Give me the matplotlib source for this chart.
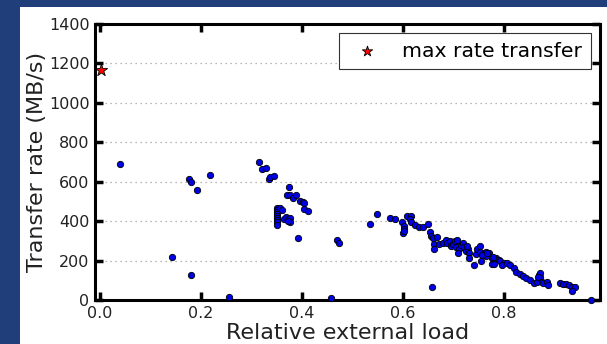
import matplotlib
matplotlib.use("Agg")
import matplotlib.pyplot as plt

# ---- data ----
load = [0.040, 0.177, 0.181, 0.191, 0.218, 0.143, 0.180, 0.256,
        0.314, 0.321, 0.328, 0.335, 0.336, 0.344,
        0.375, 0.371, 0.377, 0.382, 0.388, 0.396, 0.401, 0.403, 0.403, 0.412,
        0.350, 0.350, 0.350, 0.350, 0.350, 0.350, 0.350, 0.350, 0.350,
        0.356, 0.361, 0.365, 0.369, 0.373, 0.377, 0.377, 0.373,
        0.392, 0.469, 0.474, 0.458, 0.548, 0.535,
        0.575, 0.584, 0.597, 0.601, 0.602, 0.599, 0.601, 0.608, 0.616, 0.614,
        0.616, 0.624, 0.631, 0.640, 0.650, 0.653, 0.655, 0.660, 0.668, 0.662,
        0.661, 0.672, 0.680, 0.685, 0.688, 0.693, 0.695, 0.699, 0.703, 0.707,
        0.704, 0.710, 0.709, 0.714, 0.718, 0.720, 0.724, 0.728, 0.726, 0.730,
        0.730, 0.741, 0.744, 0.747, 0.752, 0.753, 0.755, 0.760, 0.765, 0.770,
        0.764, 0.776, 0.778, 0.785, 0.658, 0.790,
        0.757, 0.766, 0.778, 0.792, 0.776, 0.781, 0.800, 0.796, 0.805, 0.811,
        0.819, 0.823, 0.831, 0.838, 0.844, 0.851, 0.859, 0.865, 0.869, 0.872,
        0.871, 0.867, 0.875, 0.878, 0.885, 0.888,
        0.911, 0.917, 0.923, 0.928, 0.935, 0.940, 0.935, 0.973]
rate = [690, 612, 597, 560, 636, 218, 128, 15,
        699, 665, 670, 616, 626, 629,
        572, 531, 531, 519, 533, 504, 497, 491, 464, 450,
        465, 455, 445, 435, 425, 415, 405, 395, 380,
        469, 457, 413, 423, 413, 415, 396, 403,
        313, 305, 291, 9, 437, 387,
        416, 410, 394, 377, 359, 342, 350, 426, 425, 411,
        398, 382, 369, 369, 384, 345, 325, 315, 321, 283,
        259, 286, 291, 305, 288, 301, 274, 284, 301, 305,
        267, 257, 237, 279, 288, 267, 250, 260, 272, 237,
        212, 179, 232, 257, 274, 245, 196, 240, 245, 237,
        223, 212, 186, 212, 64, 203,
        228, 240, 220, 196, 183, 183, 189, 178, 186, 178,
        161, 144, 130, 122, 113, 102, 88, 93, 127, 115,
        135, 115, 93, 85, 93, 76,
        88, 81, 81, 76, 68, 68, 46, 2]
max_load = [0.002]
max_rate = [1167]
x_ticks = [0.0, 0.2, 0.4, 0.6, 0.8]
x_tick_labels = ["0.0", "0.2", "0.4", "0.6", "0.8"]
y_ticks = [0, 200, 400, 600, 800, 1000, 1200, 1400]

plt.rcParams['font.family'] = ['DejaVu Sans']

fig = plt.figure(figsize=(6.07, 3.44), dpi=100, facecolor='#203f7a')
# white page area behind the chart
bg = fig.add_axes([20 / 607, 0, 1 - 20 / 607, 1 - 7 / 344], zorder=-5)
bg.set_facecolor('white')
bg.set_xticks([])
bg.set_yticks([])
for sp in bg.spines.values():
    sp.set_visible(False)

ax = fig.add_axes([95 / 607, 1 - 300 / 344, (600 - 95) / 607, (300 - 24) / 344])

ax.scatter(load, rate, s=21, c='#0000e6', edgecolors='k', linewidths=0.6,
           zorder=3, clip_on=False)
ax.scatter(max_load, max_rate, s=85, marker='*', c='red', edgecolors='k',
           linewidths=0.6, zorder=4, clip_on=False, label='max rate transfer')

ax.set_xlim(-0.01, 0.99)
ax.set_ylim(0, 1400)
ax.set_xticks(x_ticks)
ax.set_xticklabels(x_tick_labels)
ax.set_yticks(y_ticks)
ax.yaxis.grid(True, linestyle=(0, (1, 3)), color='#a0a0a0', linewidth=0.9)
ax.set_axisbelow(True)
for sp in ax.spines.values():
    sp.set_linewidth(2.2)
ax.tick_params(direction='in', length=6, width=2.5, top=True, right=True,
               labelsize=11.5, labelcolor='#222222', pad=4)
ax.set_xlabel('Relative external load', fontsize=16, color='#222222', labelpad=2)
ax.set_ylabel('Transfer rate (MB/s)', fontsize=16, color='#222222', labelpad=1)

leg = ax.legend(loc='upper right', scatterpoints=1, fontsize=14.7,
                fancybox=False, framealpha=1, edgecolor='#333333',
                handlelength=1.9, handletextpad=0.8, borderpad=0.42,
                borderaxespad=0.45, markerscale=0.85)
leg.get_frame().set_linewidth(0.8)

fig.savefig('out.png', dpi=100, facecolor=fig.get_facecolor())
